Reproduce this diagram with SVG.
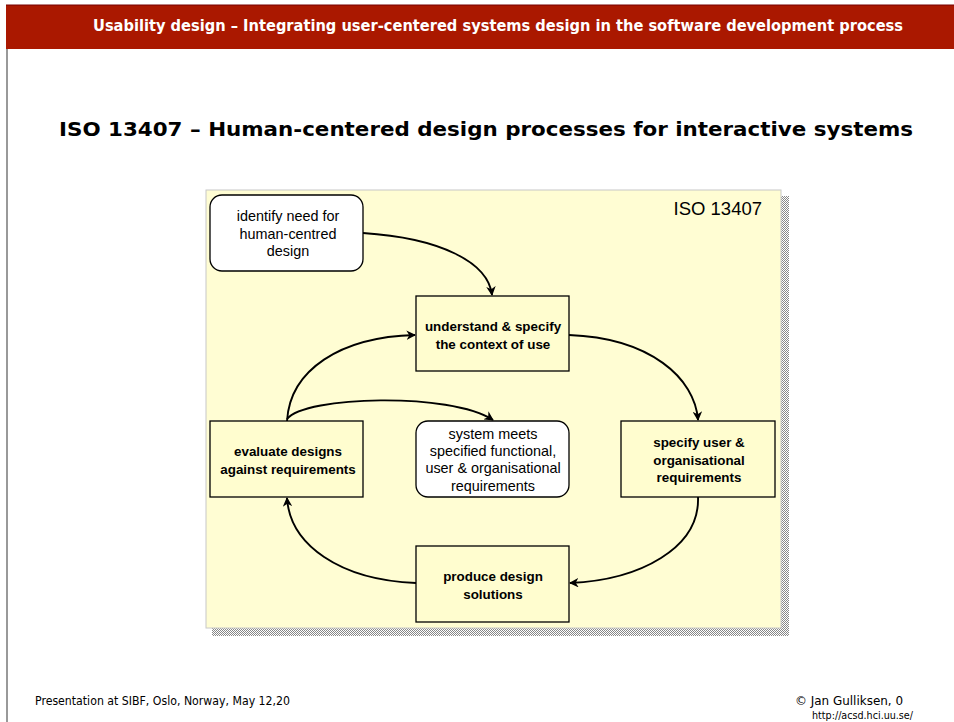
<svg xmlns="http://www.w3.org/2000/svg" width="954" height="722" viewBox="0 0 954 722">
<style>
.node rect{stroke:#000;stroke-width:1.3}
.box{fill:#FFFDCF}
.round{fill:#fff}
.t{font-family:"Liberation Sans",Arial,sans-serif;font-size:14.4px;text-anchor:middle;fill:#000}
.b{font-weight:bold;font-size:13.4px}
.conn path{fill:none;stroke:#000;stroke-width:1.9}
</style>
<defs>
<pattern id="chk" width="2" height="2" patternUnits="userSpaceOnUse">
<rect width="2" height="2" fill="#fff"/>
<rect width="1" height="1" fill="#888"/>
<rect x="1" y="1" width="1" height="1" fill="#888"/>
</pattern>
<marker id="ar" viewBox="0 0 10 10" refX="9" refY="5" markerWidth="5" markerHeight="5" orient="auto" markerUnits="strokeWidth">
<path d="M0,0 L10,5 L0,10 L3,5 z" fill="#000"/>
</marker>
</defs>
<rect width="954" height="722" fill="#fff"/>
<rect x="6" y="5" width="948" height="44" fill="#AA1800"/>
<line x1="6" y1="5" x2="954" y2="5" stroke="#700" stroke-width="1"/>
<line x1="7" y1="49" x2="7" y2="722" stroke="#555" stroke-width="1.2"/>
<text x="498" y="31" font-family="'DejaVu Sans Condensed','DejaVu Sans',sans-serif" font-weight="bold" font-size="15" fill="#fff" text-anchor="middle" textLength="810" lengthAdjust="spacingAndGlyphs">Usability design – Integrating user-centered systems design in the software development process</text>
<text x="486" y="136" font-family="'DejaVu Sans',Verdana,sans-serif" font-weight="bold" font-size="20" fill="#000" text-anchor="middle" textLength="854" lengthAdjust="spacingAndGlyphs">ISO 13407 – Human-centered design processes for interactive systems</text>

<g id="panel">
<rect x="212" y="196" width="577" height="440" fill="url(#chk)"/>
<rect x="206" y="190" width="575" height="438" fill="#FFFDD3" stroke="#c8c8c8" stroke-width="1"/>
<text x="762" y="215" font-family="'Liberation Sans',Arial,sans-serif" font-size="18.5" text-anchor="end" fill="#000">ISO 13407</text>
</g>

<g class="conn" id="connectors">
<path d="M363,233 C440,238 488,262 492,295" marker-end="url(#ar)"/>
<path d="M569,335 C650,338 695,378 698,420" marker-end="url(#ar)"/>
<path d="M698,497 C700,548 640,580 570,583" marker-end="url(#ar)"/>
<path d="M416,583 C340,580 290,545 287,498" marker-end="url(#ar)"/>
<path d="M287,421 C290,370 340,337 415,335" marker-end="url(#ar)"/>
<path d="M287,419 C305,396 450,392 493,420" marker-end="url(#ar)"/>
</g>

<g class="node" id="identify">
<rect class="round" x="210" y="195" width="153" height="76" rx="12"/>
<text class="t" x="288" y="221">identify need for</text>
<text class="t" x="288" y="239">human-centred</text>
<text class="t" x="288" y="256">design</text>
</g>
<g class="node" id="understand">
<rect class="box" x="416" y="296" width="153" height="75"/>
<text class="t b" x="493" y="331">understand &amp; specify</text>
<text class="t b" x="493" y="349">the context of use</text>
</g>
<g class="node" id="evaluate">
<rect class="box" x="210" y="421" width="153" height="76"/>
<text class="t b" x="288" y="456">evaluate designs</text>
<text class="t b" x="288" y="474">against requirements</text>
</g>
<g class="node" id="meets">
<rect class="round" x="416" y="421" width="153" height="76" rx="12"/>
<text class="t" x="493" y="439">system meets</text>
<text class="t" x="493" y="456">specified functional,</text>
<text class="t" x="493" y="473">user &amp; organisational</text>
<text class="t" x="493" y="491">requirements</text>
</g>
<g class="node" id="specify">
<rect class="box" x="621" y="421" width="154" height="76"/>
<text class="t b" x="699" y="447">specify user &amp;</text>
<text class="t b" x="699" y="465">organisational</text>
<text class="t b" x="699" y="482">requirements</text>
</g>
<g class="node" id="produce">
<rect class="box" x="416" y="546" width="153" height="76"/>
<text class="t b" x="493" y="581">produce design</text>
<text class="t b" x="493" y="599">solutions</text>
</g>

<g id="footer" font-family="'DejaVu Sans Condensed','DejaVu Sans',sans-serif" font-size="12" fill="#000">
<text x="35" y="705" textLength="255" lengthAdjust="spacingAndGlyphs">Presentation at SIBF, Oslo, Norway, May 12,20</text>
<text x="903" y="705" text-anchor="end" textLength="108" lengthAdjust="spacingAndGlyphs">© Jan Gulliksen, 0</text>
<text x="812" y="719" font-size="11" textLength="101" lengthAdjust="spacingAndGlyphs">http://acsd.hci.uu.se/</text>
</g>
</svg>
